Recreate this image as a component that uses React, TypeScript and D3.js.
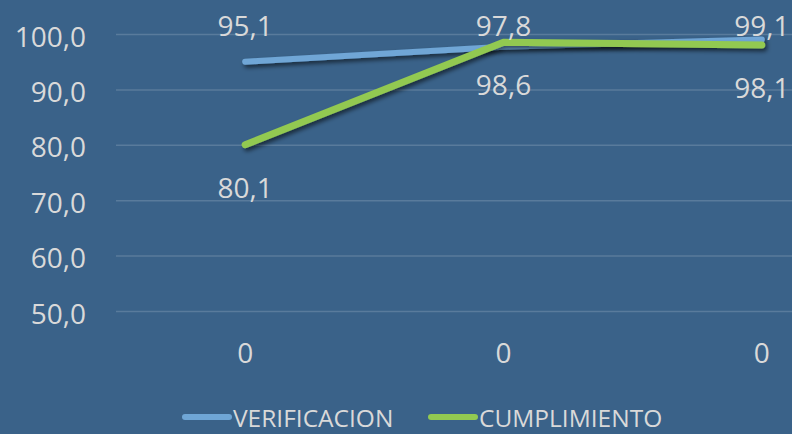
import React, { useEffect, useRef } from 'react';
import * as d3 from 'd3';

const categories = ['0', '0', '0'];
const verificacion = [95.1, 97.8, 99.1];
const cumplimiento = [80.1, 98.6, 98.1];
const yTicks = [50, 60, 70, 80, 90, 100];

const series = [
  { name: 'VERIFICACION', values: verificacion, color: '#6fa6d6', width: 6, labelPos: 'above' },
  { name: 'CUMPLIMIENTO', values: cumplimiento, color: '#92c951', width: 7, labelPos: 'below' },
];

const fmt = (v: number) => v.toFixed(1).replace('.', ',');

function App() {
  const ref = useRef<SVGSVGElement | null>(null);

  useEffect(() => {
    document.body.style.margin = '0';
    const width = 792;
    const height = 434;
    const svg = d3.select(ref.current);
    svg.selectAll('*').remove();

    const font = "'Open Sans', 'Noto Sans', sans-serif";
    const textColor = '#d9d9d9';

    svg.append('rect').attr('width', width).attr('height', height).attr('fill', '#3a6289');

    const defs = svg.append('defs');
    defs.append('filter')
      .attr('id', 'shadow')
      .attr('x', '-10%').attr('y', '-50%').attr('width', '120%').attr('height', '200%')
      .append('feDropShadow')
      .attr('dx', 2).attr('dy', 3).attr('stdDeviation', 2)
      .attr('flood-color', '#000').attr('flood-opacity', 0.55);

    const x = d3.scaleBand<number>()
      .domain(categories.map((_, i) => i))
      .range([116, 891]);
    const cx = (i: number) => (x(i) as number) + x.bandwidth() / 2;

    const y = d3.scaleLinear().domain([50, 100]).range([311.5, 34.5]);

    // gridlines
    svg.append('g')
      .selectAll('line')
      .data(yTicks)
      .join('line')
      .attr('x1', 116).attr('x2', width)
      .attr('y1', d => y(d)).attr('y2', d => y(d))
      .attr('stroke', '#ffffff').attr('stroke-opacity', 0.16).attr('stroke-width', 1.5);

    // y tick labels
    svg.append('g')
      .selectAll('text')
      .data(yTicks)
      .join('text')
      .attr('x', 86)
      .attr('y', d => y(d) + 12)
      .attr('text-anchor', 'end')
      .attr('font-family', font).attr('font-size', 28).attr('fill', textColor)
      .text(d => fmt(d));

    // x labels
    svg.append('g')
      .selectAll('text')
      .data(categories)
      .join('text')
      .attr('x', (_, i) => cx(i))
      .attr('y', 363)
      .attr('text-anchor', 'middle')
      .attr('font-family', font).attr('font-size', 28).attr('fill', textColor)
      .text(d => d);

    const line = d3.line<number>().x((_, i) => cx(i)).y(d => y(d));

    series.forEach(s => {
      svg.append('path')
        .datum(s.values)
        .attr('d', line)
        .attr('fill', 'none')
        .attr('stroke', s.color)
        .attr('stroke-width', s.width)
        .attr('stroke-linecap', 'round')
        .attr('stroke-linejoin', 'round')
        .attr('filter', 'url(#shadow)');
    });

    series.forEach(s => {
      svg.append('g')
        .selectAll('text')
        .data(s.values)
        .join('text')
        .attr('x', (_, i) => cx(i))
        .attr('y', d => (s.labelPos === 'above' ? Math.max(y(d) - 26, 36) : y(d) + 53))
        .attr('text-anchor', 'middle')
        .attr('font-family', font).attr('font-size', 28).attr('fill', textColor)
        .text(d => fmt(d));
    });

    // legend (kept just inside the bottom edge)
    const legend = [
      { s: series[0], x0: 182 },
      { s: series[1], x0: 428 },
    ];
    legend.forEach(({ s, x0 }) => {
      svg.append('line')
        .attr('x1', x0 + 3).attr('x2', x0 + 47)
        .attr('y1', 417).attr('y2', 417)
        .attr('stroke', s.color).attr('stroke-width', 6).attr('stroke-linecap', 'round');
      svg.append('text')
        .attr('x', x0 + 51).attr('y', 427)
        .attr('font-family', font).attr('font-size', 24.5).attr('fill', textColor)
        .text(s.name);
    });
  }, []);

  return <svg ref={ref} width={792} height={434} style={{ display: 'block' }} />;
}

export default App;
